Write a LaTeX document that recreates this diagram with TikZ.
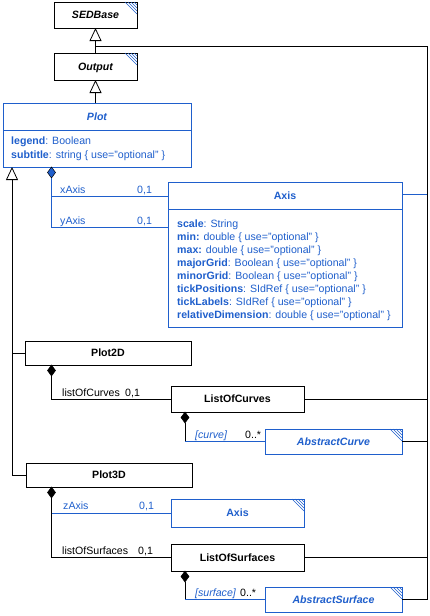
\documentclass[tikz,border=0pt]{standalone}
\usepackage{fontspec}
\setmainfont{Liberation Sans}
\usetikzlibrary{arrows.meta,shapes.geometric}
\definecolor{umlblue}{RGB}{31,95,204}
% three diagonal strokes in the upper right corner of an abstract class
\newcommand\hatchcorner[1]{%
  \foreach \k in {3,6,9,12}{\draw[hatchline] ([xshift=-\k pt]#1.north east) -- ([yshift=-\k pt]#1.north east);}}
\newcommand\umlfont{\fontsize{10.6}{12}\selectfont}
\begin{document}
\begin{tikzpicture}[x=1pt,y=-1pt,
  font=\umlfont,
  box/.style={draw=black,line width=0.9pt,fill=white,inner sep=0pt,outer sep=0pt,
    text height=7.6pt,text depth=0pt,font=\umlfont\bfseries},
  bbox/.style={box,draw=umlblue,text=umlblue},
  abstr/.style={font=\umlfont\bfseries\itshape},
  hatchline/.style={draw=umlblue,line width=0.6pt},
  conn/.style={draw=black,line width=0.8pt},
  bconn/.style={conn,draw=umlblue},
  inh/.style={conn,-{Triangle[length=13pt,width=12pt,fill=white]}},
  dia/.style={diamond,draw=black,fill=black,inner sep=0pt,outer sep=0pt,
    minimum width=8pt,minimum height=11pt,line width=0.5pt,anchor=north},
  attr/.style={anchor=base west,inner sep=0pt},
  lbl/.style={anchor=base west,inner sep=0pt},
  blbl/.style={lbl,text=umlblue},
  clbl/.style={lbl,text=umlblue,font=\umlfont\itshape},
  head/.style={inner sep=0pt,text height=7.6pt,text depth=0pt}
]
\useasboundingbox (0,0) rectangle (430,616);

% ---- classes ----
\node[box,abstr,minimum width=83pt,minimum height=26pt] (sedbase) at (95.5,15) {SEDBase};
\node[box,abstr,minimum width=83pt,minimum height=27pt] (output) at (95.5,66.5) {Output};

\node[box,draw=umlblue,minimum width=188pt,minimum height=64pt] (plot) at (97,135) {};
\draw[draw=umlblue,line width=0.9pt] (plot.west |- 0,130) -- (plot.east |- 0,130);
\node[head,text=umlblue,font=\umlfont\bfseries\itshape] (plottitle) at (97,116.5) {Plot};
\node[attr,text=umlblue] (plota1) at (11,144.5) {\textbf{legend}: Boolean};
\node[attr,text=umlblue] (plota2) at (11,158.5) {\textbf{subtitle}: string \{ use="optional" \}};

\node[box,draw=umlblue,minimum width=234pt,minimum height=145pt] (axis) at (285,254.5) {};
\draw[draw=umlblue,line width=0.9pt] (axis.west |- 0,209) -- (axis.east |- 0,209);
\node[head,text=umlblue,font=\umlfont\bfseries] (axistitle) at (285,195.5) {Axis};
\node[attr,text=umlblue] (ax1) at (177,227) {\textbf{scale}: String};
\node[attr,text=umlblue] (ax2) at (177,240) {\textbf{min:} double \{ use="optional" \}};
\node[attr,text=umlblue] (ax3) at (177,253) {\textbf{max:} double \{ use="optional" \}};
\node[attr,text=umlblue] (ax4) at (177,266) {\textbf{majorGrid}: Boolean \{ use="optional" \}};
\node[attr,text=umlblue] (ax5) at (177,279) {\textbf{minorGrid}: Boolean \{ use="optional" \}};
\node[attr,text=umlblue] (ax6) at (177,292) {\textbf{tickPositions}: SIdRef \{ use="optional" \}};
\node[attr,text=umlblue] (ax7) at (177,305) {\textbf{tickLabels}: SIdRef \{ use="optional" \}};
\node[attr,text=umlblue] (ax8) at (177,318) {\textbf{relativeDimension}: double \{ use="optional" \}};

\node[box,minimum width=166pt,minimum height=24pt] (plot2d) at (108,353) {Plot2D};
\node[box,minimum width=133pt,minimum height=26pt] (loc) at (237.5,399) {ListOfCurves};
\node[bbox,abstr,minimum width=137pt,minimum height=25pt] (acurve) at (333.5,441.5) {AbstractCurve};

\node[box,minimum width=166pt,minimum height=24pt] (plot3d) at (109,475) {Plot3D};
\node[bbox,minimum width=133pt,minimum height=28pt] (axis2) at (237.5,513) {Axis};
\node[box,minimum width=133pt,minimum height=27pt] (los) at (237.5,557.5) {ListOfSurfaces};
\node[bbox,abstr,minimum width=137pt,minimum height=25pt] (asurf) at (333.5,599.5) {AbstractSurface};

\hatchcorner{sedbase}
\hatchcorner{output}
\hatchcorner{acurve}
\hatchcorner{axis2}
\hatchcorner{asurf}

% ---- generalisation ----
\coordinate (j0) at (sedbase.south |- 0,46);
\coordinate (trunktop) at (427,46);
\draw[inh] (output.north) -- (sedbase.south);
\draw[conn] (j0) -- (trunktop) -- (trunktop |- asurf.east);
\draw[inh] (plot.north -| output.south) -- (output.south);

\coordinate (pinh) at ([xshift=9pt]plot.south west);
\draw[inh] (plot3d.west) -| (pinh);
\draw[conn] (plot2d.west) -- (plot2d.west -| pinh);

\draw[bconn] ([yshift=-12pt]axis.north east) coordinate (ae) -- (ae -| trunktop);
\draw[conn] (loc.east) -- (loc.east -| trunktop);
\draw[conn] (acurve.east) -- (acurve.east -| trunktop);
\draw[conn] (los.east) -- (los.east -| trunktop);
\draw[conn] (asurf.east) -- (asurf.east -| trunktop);

% ---- composition ----
\node[dia,fill=umlblue] (dplot) at ([xshift=48.5pt]plot.south west) {};
\coordinate (xa) at (0,196);
\coordinate (ya) at (0,227);
\draw[bconn] (dplot.south) |- (axis.west |- ya);
\draw[bconn] (dplot.south |- xa) -- (axis.west |- xa);
\node[blbl] (lx) at (60,193) {xAxis};
\node[blbl] (lx1) at (137,193) {0,1};
\node[blbl] (ly) at (60,224) {yAxis};
\node[blbl] (ly1) at (137,224) {0,1};

\node[dia] (dp2) at ([xshift=26.5pt]plot2d.south west) {};
\draw[conn] (dp2.south) |- (loc.west);
\node[lbl] (lc) at (62,396) {listOfCurves};
\node[lbl] (lc1) at (125,396) {0,1};

\node[dia] (dloc) at ([xshift=14pt]loc.south west) {};
\draw[conn] (dloc.south) -- (dloc.south |- acurve.west);
\draw[bconn] (dloc.south |- acurve.west) -- (acurve.west);
\node[clbl] (lcv) at (195,438) {[curve]};
\node[lbl] (lcv1) at (245,438) {0..*};

\node[dia] (dp3) at ([xshift=25.5pt]plot3d.south west) {};
\draw[conn] (dp3.south) |- (los.west);
\draw[bconn] (dp3.south |- axis2.west) -- (axis2.west);
\node[blbl] (lz) at (63,509) {zAxis};
\node[blbl] (lz1) at (139,509) {0,1};
\node[lbl] (ls) at (62,554) {listOfSurfaces};
\node[lbl] (ls1) at (138,554) {0,1};

\node[dia] (dlos) at ([xshift=14pt]los.south west) {};
\draw[conn] (dlos.south) -- (dlos.south |- asurf.west);
\draw[bconn] (dlos.south |- asurf.west) -- (asurf.west);
\node[clbl] (lsf) at (195,596) {[surface]};
\node[lbl] (lsf1) at (240,596) {0..*};
\end{tikzpicture}
\end{document}
